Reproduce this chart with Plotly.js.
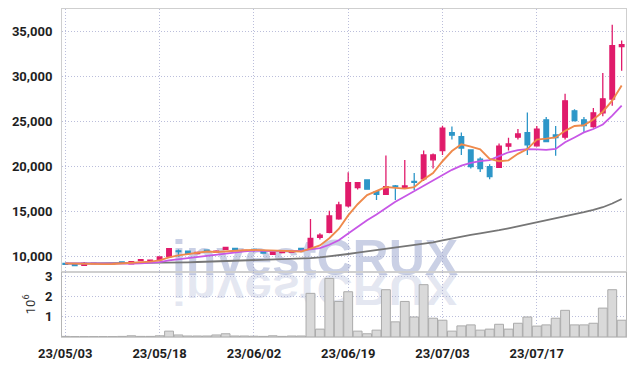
<!DOCTYPE html>
<html>
<head>
<meta charset="utf-8">
<script src="https://cdn.plot.ly/plotly-3.0.1.min.js"></script>
<style>
  html, body { margin: 0; padding: 0; background: #fff; }
  #chart { width: 634px; height: 366px; }
</style>
</head>
<body>
<div id="chart"></div>
<script>
// ---- data ----
const dates = [
  '23/05/03','23/05/04','23/05/08','23/05/09','23/05/10','23/05/11','23/05/12','23/05/15','23/05/16','23/05/17',
  '23/05/18','23/05/19','23/05/22','23/05/23','23/05/24','23/05/25','23/05/26','23/05/30','23/05/31','23/06/01',
  '23/06/02','23/06/05','23/06/07','23/06/08','23/06/09','23/06/12','23/06/13','23/06/14','23/06/15','23/06/16',
  '23/06/19','23/06/20','23/06/21','23/06/22','23/06/23','23/06/26','23/06/27','23/06/28','23/06/29','23/06/30',
  '23/07/03','23/07/04','23/07/05','23/07/06','23/07/07','23/07/10','23/07/11','23/07/12','23/07/13','23/07/14',
  '23/07/17','23/07/18','23/07/19','23/07/20','23/07/21','23/07/24','23/07/25','23/07/26','23/07/27','23/07/28'
];
const openPrices = [
  9250, 9150, 9050, 9230, 9240, 9220, 9420, 9200, 9560, 9420,
  9650, 10000, 10650, 10620, 10350, 10720, 10500, 10820, 10930, 10650,
  10800, 10650, 10260, 10450, 10500, 10930, 10930, 12150, 12700, 14190,
  15630, 17670, 18520, 17220, 16930, 17850, 17650, 18350, 18630, 20750,
  21780, 23780, 23330, 21850, 20820, 20000, 19930, 22270, 23270, 23780,
  22300, 25190, 23520, 23270, 26190, 25190, 24440, 25970, 27490, 33330
];
const highPrices = [
  9290, 9170, 9400, 9280, 9260, 9270, 9450, 9480, 9720, 9650,
  10000, 10920, 10800, 10650, 10550, 10780, 10720, 11110, 10950, 10750,
  10900, 10680, 10680, 10650, 10700, 10950, 14190, 12600, 15100, 16100,
  19380, 18300, 18550, 17250, 21220, 17950, 20740, 19300, 21780, 21450,
  24520, 24440, 23780, 21900, 21050, 20250, 22550, 23200, 24170, 26000,
  24500, 25490, 24500, 28080, 26350, 25500, 26500, 30380, 35740, 34000
];
const lowPrices = [
  9120, 8990, 9030, 9200, 9200, 9200, 9230, 9180, 9540, 9400,
  9620, 9980, 10000, 10350, 10300, 10500, 10450, 10780, 10680, 10600,
  10550, 10380, 10230, 10400, 10450, 10650, 10900, 11900, 12600, 14100,
  15500, 17450, 17450, 16300, 16900, 16300, 17600, 17400, 18400, 19800,
  21300, 23000, 21300, 19800, 19400, 18600, 19900, 21800, 23000, 21300,
  22200, 22700, 21190, 23000, 25000, 23770, 24300, 25600, 26740, 30630
];
const closePrices = [
  9150, 9020, 9250, 9250, 9220, 9240, 9260, 9450, 9680, 9620,
  9980, 10900, 10560, 10380, 10480, 10560, 10620, 11040, 10700, 10700,
  10720, 10400, 10650, 10550, 10560, 10700, 12040, 12400, 14520, 15740,
  18220, 18220, 17490, 16930, 17780, 17750, 17850, 18250, 21300, 21300,
  24270, 23490, 22050, 20000, 19780, 18900, 22270, 22520, 23630, 22410,
  24150, 22780, 23220, 27300, 25110, 24560, 25970, 27520, 33410, 33520
];
const ma5 = [
  9260, 9220, 9200, 9190, 9178, 9196, 9244, 9284, 9370, 9450,
  9598, 9926, 10148, 10288, 10460, 10576, 10520, 10616, 10680, 10724,
  10756, 10712, 10634, 10604, 10576, 10572, 10900, 11250, 12044, 13080,
  14584, 15820, 16838, 17320, 17728, 17634, 17560, 17712, 18586, 19290,
  20594, 21722, 22482, 22222, 21918, 20844, 20600, 20694, 21420, 21946,
  22996, 23098, 23238, 23972, 24512, 24594, 25232, 26092, 27314, 28996
];
const ma10 = [
  9250, 9240, 9230, 9220, 9210, 9200, 9210, 9230, 9260, 9314,
  9397, 9585, 9716, 9829, 9955, 10087, 10223, 10382, 10484, 10592,
  10666, 10616, 10625, 10642, 10650, 10664, 10806, 10942, 11324, 11828,
  12578, 13360, 14044, 14682, 15404, 16109, 16690, 17275, 17953, 18509,
  19114, 19641, 20097, 20404, 20604, 20719, 21161, 21588, 21821, 21932,
  21920, 21849, 21966, 22696, 23233, 23799, 24169, 24668, 25646, 26757
];
const ma60 = [
  9230, 9235, 9240, 9245, 9250, 9255, 9262, 9270, 9280, 9292,
  9305, 9330, 9355, 9380, 9410, 9440, 9470, 9500, 9530, 9565,
  9600, 9635, 9670, 9705, 9740, 9775, 9840, 9920, 10020, 10140,
  10300, 10450, 10590, 10720, 10860, 10990, 11120, 11250, 11420, 11600,
  11820, 12040, 12240, 12420, 12580, 12740, 12940, 13150, 13370, 13570,
  13790, 13990, 14200, 14470, 14710, 14940, 15200, 15490, 15900, 16400
];
// volume in millions of shares
const volumeMillions = [
  0.03, 0.02, 0.02, 0.02, 0.02, 0.02, 0.03, 0.06, 0.03, 0.03,
  0.06, 0.29, 0.10, 0.05, 0.05, 0.05, 0.10, 0.16, 0.05, 0.05,
  0.04, 0.03, 0.06, 0.03, 0.05, 0.05, 2.16, 0.39, 2.90, 1.76,
  2.24, 0.29, 0.16, 0.34, 2.34, 0.75, 1.76, 0.99, 2.59, 0.93,
  0.83, 0.29, 0.55, 0.60, 0.34, 0.39, 0.63, 0.39, 0.68, 0.99,
  0.54, 0.60, 0.93, 1.32, 0.60, 0.60, 0.68, 1.43, 2.34, 0.83
];
const tickDates = ['23/05/03','23/05/18','23/06/02','23/06/19','23/07/03','23/07/17'];
const priceTicks = [10000, 15000, 20000, 25000, 30000, 35000];
const volumeTicks = [1, 2, 3];
const watermarkText = 'investCRUX';

// ---- styles ----
const PINK = '#e01b6b';
const BLUE = '#2d96c8';
const GRID = 'rgba(150,155,200,0.65)';
const GRIDDASH = '1px,2px';
const FRAME = '#cfcfcf';
const FONT = 'Roboto, "Liberation Sans", sans-serif';
const TICKFONT = { family: FONT, size: 13, color: '#1e1e1e', weight: 'bold' };
const XRANGE = [-0.35, 59.46];

const traces = [
  {
    type: 'bar', x: dates, y: volumeMillions, xaxis: 'x2', yaxis: 'y2',
    marker: { color: '#d9d9d9', line: { color: '#ababab', width: 1 } },
    hoverinfo: 'skip'
  },
  {
    type: 'candlestick', x: dates, open: openPrices, high: highPrices, low: lowPrices, close: closePrices,
    xaxis: 'x', yaxis: 'y', whiskerwidth: 0,
    increasing: { line: { color: PINK, width: 1.3 }, fillcolor: PINK },
    decreasing: { line: { color: BLUE, width: 1.3 }, fillcolor: BLUE },
    hoverinfo: 'skip'
  },
  { type: 'scatter', mode: 'lines', x: dates, y: ma60, xaxis: 'x', yaxis: 'y',
    line: { color: '#767676', width: 1.8 }, hoverinfo: 'skip' },
  { type: 'scatter', mode: 'lines', x: dates, y: ma10, xaxis: 'x', yaxis: 'y',
    line: { color: '#c757e6', width: 1.8 }, hoverinfo: 'skip' },
  { type: 'scatter', mode: 'lines', x: dates, y: ma5, xaxis: 'x', yaxis: 'y',
    line: { color: '#ef8a4c', width: 1.9 }, hoverinfo: 'skip' }
];

const wmShape = (color) => ({
  type: 'rect', xref: 'paper', yref: 'paper', layer: 'below',
  x0: 0.3486, x1: 0.5486, y0: 0.2246, y1: 0.2846,
  line: { width: 0 }, fillcolor: 'rgba(0,0,0,0)',
  label: { text: watermarkText, textposition: 'middle center',
           font: { family: '"Liberation Sans", Arial, sans-serif', size: 50, color: color, weight: 'bold' } }
});

const layout = {
  width: 634, height: 366,
  margin: { l: 62, r: 8, t: 9, b: 29 },
  paper_bgcolor: '#ffffff', plot_bgcolor: 'rgba(0,0,0,0)',
  showlegend: false, hovermode: false,
  boxgap: 0.3, bargap: 0.06,
  font: { family: FONT, size: 13, color: '#1e1e1e' },
  xaxis: {
    type: 'category', anchor: 'y', domain: [0, 1], range: XRANGE,
    tickmode: 'array', tickvals: tickDates, showticklabels: false, ticks: '',
    showgrid: true, gridcolor: GRID, griddash: GRIDDASH, gridwidth: 1,
    showline: true, mirror: true, linecolor: FRAME, linewidth: 1,
    zeroline: false, rangeslider: { visible: false }, fixedrange: true
  },
  xaxis2: {
    type: 'category', anchor: 'y2', domain: [0, 1], matches: 'x', range: XRANGE,
    tickmode: 'array', tickvals: tickDates, ticktext: tickDates,
    ticks: 'outside', ticklen: 4, tickcolor: 'rgba(0,0,0,0)',
    tickfont: TICKFONT,
    showgrid: true, gridcolor: GRID, griddash: GRIDDASH, gridwidth: 1,
    showline: true, mirror: true, linecolor: FRAME, linewidth: 1,
    zeroline: false, rangeslider: { visible: false }, fixedrange: true
  },
  yaxis: {
    domain: [0.199, 1], range: [8333, 37489],
    tickmode: 'array', tickvals: priceTicks, tickformat: ',d',
    ticks: 'outside', ticklen: 6, tickcolor: 'rgba(0,0,0,0)',
    tickfont: TICKFONT,
    showgrid: true, gridcolor: GRID, griddash: GRIDDASH, gridwidth: 1,
    showline: true, mirror: true, linecolor: FRAME, linewidth: 1,
    zeroline: false, fixedrange: true
  },
  yaxis2: {
    domain: [0, 0.199], range: [0, 3.23],
    tickmode: 'array', tickvals: volumeTicks,
    ticks: 'outside', ticklen: 6, tickcolor: 'rgba(0,0,0,0)',
    tickfont: TICKFONT,
    title: { text: '10<sup>6</sup>', standoff: 6, font: { family: FONT, size: 13, color: '#333333' } },
    showgrid: true, gridcolor: GRID, griddash: GRIDDASH, gridwidth: 1,
    showline: true, mirror: true, linecolor: '#b5b5b5', linewidth: 1,
    zeroline: false, fixedrange: true
  },
  shapes: [ wmShape('rgba(160,172,208,0.56)'), wmShape('rgba(160,172,208,0.28)') ]
};

Plotly.newPlot('chart', traces, layout, { staticPlot: true, displayModeBar: false }).then(function (gd) {
  // mirror (and slightly squash) the second watermark label to form the reflection
  const texts = Array.from(gd.querySelectorAll('text')).filter(t => t.textContent === watermarkText);
  if (texts.length > 1) {
    texts[1].setAttribute('transform', 'matrix(1,0,0,-0.9,0,521.5)');
  }
});
</script>
</body>
</html>
